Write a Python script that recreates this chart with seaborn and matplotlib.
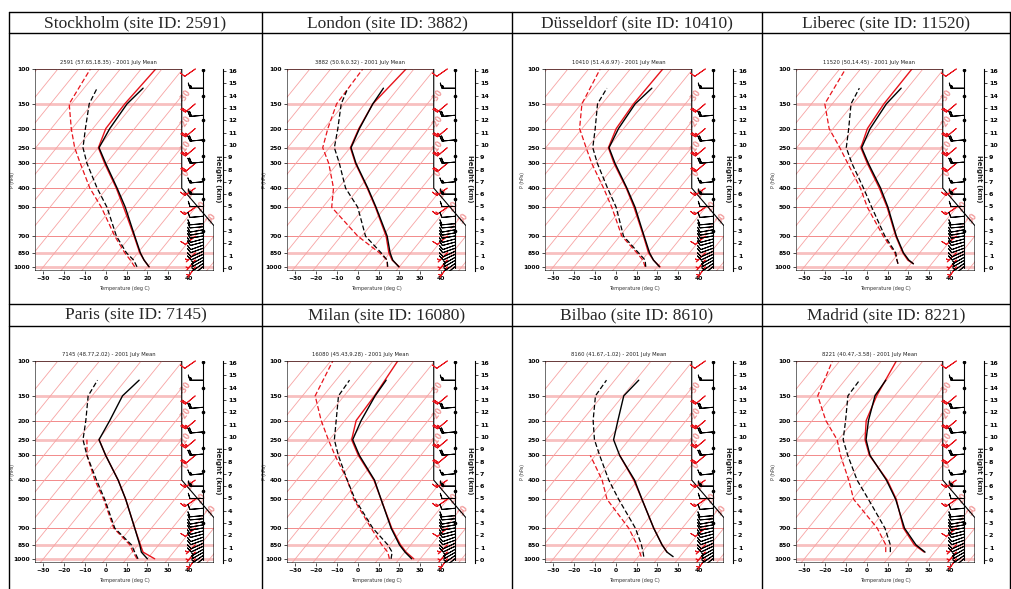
import numpy as np
import matplotlib
matplotlib.use("Agg")
import matplotlib.pyplot as plt
import seaborn as sns
from matplotlib.patches import Polygon
from matplotlib.lines import Line2D
from matplotlib.transforms import blended_transform_factory

sns.set_theme(style="white")
plt.rcParams['font.family'] = ['DejaVu Sans']

NaN = np.nan

# ---------------- data ----------------
HEADERS = ["Stockholm (site ID: 2591)", "London (site ID: 3882)",
           "Düsseldorf (site ID: 10410)", "Liberec (site ID: 11520)",
           "Paris (site ID: 7145)", "Milan (site ID: 16080)",
           "Bilbao (site ID: 8610)", "Madrid (site ID: 8221)"]
SUBTITLES = ["2591 (57.65,18.35) - 2001 July Mean", "3882 (50.9,0.32) - 2001 July Mean",
             "10410 (51.4,6.97) - 2001 July Mean", "11520 (50,14.45) - 2001 July Mean",
             "7145 (48.77,2.02) - 2001 July Mean", "16080 (45.43,9.28) - 2001 July Mean",
             "8160 (41.67,-1.02) - 2001 July Mean", "8221 (40.47,-3.58) - 2001 July Mean"]

ISOBARS = [100, 150, 200, 250, 300, 400, 500, 700, 850, 1000]
TEMP_TICKS = [-30, -20, -10, 0, 10, 20, 30, 40]
HEIGHT_TICKS = list(range(0, 17))

# Stockholm
STO_OBS_P = [1000, 925, 850, 700, 500, 400, 300, 250, 200, 150, 125]
STO_OBS_T = [20.8, 15.8, 11.2, 2.0, -13.8, -25.2, -40.3, -49.6, -51.9, -53.2, -51.6]
STO_OBS_TD = [15.0, 10.8, 4.5, -6.8, -22.6, -34.8, -49.3, -57.3, -63.6, -71.4, -73.7]
STO_MOD_P = [1000, 925, 850, 700, 500, 400, 300, 250, 200, 150, 100]
STO_MOD_T = [20.8, 15.8, 10.9, 1.7, -14.6, -25.6, -40.8, -49.9, -53.8, -54.3, -53.0]
STO_MOD_TD = [13.9, 9.2, 3.7, -7.6, -25.3, -38.3, -52.5, -61.3, -70.4, -81.0, -84.4]

# London
LON_OBS_P = [1000, 925, 850, 700, 500, 400, 300, 250, 200, 150, 125]
LON_OBS_T = [19.7, 14.2, 10.1, 2.2, -14.4, -25.8, -41.1, -49.6, -53.0, -56.2, -57.2]
LON_OBS_TD = [14.4, 11.5, 5.8, -8.2, -23.2, -36.5, -49.1, -57.6, -63.4, -71.4, -74.3]
LON_MOD_P = [1000, 925, 850, 700, 500, 400, 300, 250, 200, 150, 100]
LON_MOD_T = [20.0, 13.9, 9.5, 1.7, -14.7, -26.1, -41.4, -49.9, -53.3, -56.2, -53.8]
LON_MOD_TD = [14.2, 11.5, 5.0, -11.9, -35.7, -42.3, -54.2, -63.2, -68.2, -73.6, -74.6]

# Duesseldorf
DUS_OBS_P = [1000, 925, 850, 700, 500, 400, 300, 250, 200, 150, 125]
DUS_OBS_T = [21.0, 15.5, 10.8, 1.7, -13.9, -25.3, -40.6, -49.6, -52.5, -54.1, -52.2]
DUS_OBS_TD = [14.4, 11.5, 5.5, -8.2, -23.0, -34.6, -49.1, -57.4, -63.7, -72.2, -73.8]
DUS_MOD_P = [1000, 925, 850, 700, 500, 400, 300, 250, 200, 150, 100]
DUS_MOD_T = [21.3, 15.5, 10.3, 1.4, -14.4, -25.6, -41.1, -49.9, -53.6, -54.9, -54.4]
DUS_MOD_TD = [14.1, 10.4, 4.7, -9.0, -25.1, -36.5, -51.8, -60.6, -71.2, -79.7, -84.5]

# Liberec
LIB_OBS_P = [965, 925, 850, 700, 500, 400, 300, 250, 200, 150, 125]
LIB_OBS_T = [21.2, 17.6, 12.2, 2.3, -13.0, -24.0, -39.5, -48.8, -52.2, -54.0, -53.0]
LIB_OBS_TD = [13.8, 11.9, 8.5, -3.2, -20.8, -32.2, -47.4, -56.2, -62.5, -71.0, -73.1]
LIB_MOD_P = [965, 925, 850, 700, 500, 400, 300, 250, 200, 150, 100]
LIB_MOD_T = [21.2, 17.1, 11.9, 2.0, -13.4, -24.6, -40.0, -49.2, -53.5, -55.2, -55.3]
LIB_MOD_TD = [13.8, 11.9, 8.0, -4.0, -22.9, -33.7, -49.4, -59.3, -71.9, -83.6, -87.2]

# Paris
PAR_OBS_P = [1000, 925, 850, 700, 500, 400, 300, 250, 200, 150, 125]
PAR_OBS_T = [20.0, 14.5, 10.9, 2.0, -13.6, -24.7, -40.3, -49.6, -51.9, -55.4, -53.5]
PAR_OBS_TD = [15.5, 11.3, 6.9, -7.6, -23.7, -35.1, -49.3, -57.3, -63.4, -71.9, -73.5]
PAR_MOD_P = [1000, 925, 850, 700, 500, 400, 300, 250]
PAR_MOD_T = [23.5, 15.3, 11.2, 2.0, -13.6, -24.7, -40.3, -49.6]
PAR_MOD_TD = [15.0, 10.5, 6.1, -8.1, -24.2, -35.9, -49.3, -55.4]

# Milan
MIL_OBS_P = [1000, 925, 850, 700, 500, 400, 300, 250, 200, 150, 125]
MIL_OBS_T = [25.9, 20.1, 14.6, 4.1, -12.0, -22.6, -39.5, -48.8, -52.2, -55.1, -55.9]
MIL_OBS_TD = [16.0, 13.9, 9.0, -4.7, -24.5, -35.7, -49.6, -57.6, -64.2, -72.7, -73.5]
MIL_MOD_P = [1000, 925, 850, 700, 500, 400, 300, 250, 200, 150, 100]
MIL_MOD_T = [26.9, 20.6, 15.1, 4.4, -12.0, -22.9, -40.0, -49.3, -54.6, -55.4, -57.8]
MIL_MOD_TD = [15.2, 11.8, 6.1, -5.5, -25.1, -35.7, -51.2, -60.5, -71.4, -83.9, -89.0]

# Bilbao
BIL_OBS_P = [975, 925, 850, 700, 500, 400, 300, 250, 200, 150, 125]
BIL_OBS_T = [26.7, 22.0, 16.8, 6.3, -10.6, -21.6, -38.4, -47.4, -52.8, -59.6, -58.5]
BIL_OBS_TD = [12.6, 10.5, 6.9, -2.5, -21.8, -34.0, -48.0, -56.6, -64.7, -73.2, -74.0]
BIL_MOD_P = [975, 925, 850, 700, 500, 400, 300]
BIL_MOD_T = [NaN, 22.0, 16.8, 6.3, -10.6, -22.0, -38.4]
BIL_MOD_TD = [11.4, 8.9, 4.8, -5.7, -27.4, -37.2, -52.5]

# Madrid
MAD_OBS_P = [925, 850, 700, 500, 400, 300, 250, 200, 150, 125]
MAD_OBS_T = [25.4, 18.2, 6.2, -9.3, -21.2, -38.7, -46.7, -53.0, -59.5, -60.4]
MAD_OBS_TD = [8.7, 5.9, -3.2, -22.4, -35.3, -49.4, -57.7, -64.0, -72.5, -73.0]
MAD_MOD_P = [925, 850, 700, 500, 400, 300, 250, 200, 150, 100]
MAD_MOD_T = [25.0, 17.4, 5.7, -9.0, -20.8, -39.0, -47.2, -54.1, -58.7, -62.8]
MAD_MOD_TD = [6.5, 3.7, -6.9, -29.5, -39.3, -52.9, -60.6, -73.5, -87.0, -93.5]

# winds (model on pressure levels, observations on height levels)
MOD_WIND_P = [100, 150, 200, 250, 300, 400, 500, 700, 850, 925, 1000]
MOD_WIND_SPD = [10, 20, 25, 25, 20, 15, 15, 10, 5, 5, 5]
MOD_WIND_DIR = [235, 230, 230, 230, 230, 235, 235, 230, 225, 220, 215]
OBS_WIND_Z = [14.6, 12.4, 10.4, 8.6, 7.0, 6.0, 5.0, 4.2, 3.6, 3.35, 3.1, 2.85,
              2.6, 2.35, 2.1, 1.85, 1.6, 1.35, 1.1, 0.85, 0.6, 0.35, 0.1]
OBS_WIND_SPD = [15, 20, 20, 20, 15, 15, 10, 10, 10, 10, 10, 10,
                10, 10, 10, 10, 10, 10, 10, 5, 5, 5, 5]
OBS_WIND_DIR = [270, 265, 265, 265, 265, 270, 270, 265, 265, 265, 260, 260,
                260, 255, 255, 250, 250, 245, 245, 240, 240, 235, 230]

SITES = [
    (STO_OBS_P, STO_OBS_T, STO_OBS_TD, STO_MOD_P, STO_MOD_T, STO_MOD_TD),
    (LON_OBS_P, LON_OBS_T, LON_OBS_TD, LON_MOD_P, LON_MOD_T, LON_MOD_TD),
    (DUS_OBS_P, DUS_OBS_T, DUS_OBS_TD, DUS_MOD_P, DUS_MOD_T, DUS_MOD_TD),
    (LIB_OBS_P, LIB_OBS_T, LIB_OBS_TD, LIB_MOD_P, LIB_MOD_T, LIB_MOD_TD),
    (PAR_OBS_P, PAR_OBS_T, PAR_OBS_TD, PAR_MOD_P, PAR_MOD_T, PAR_MOD_TD),
    (MIL_OBS_P, MIL_OBS_T, MIL_OBS_TD, MIL_MOD_P, MIL_MOD_T, MIL_MOD_TD),
    (BIL_OBS_P, BIL_OBS_T, BIL_OBS_TD, BIL_MOD_P, BIL_MOD_T, BIL_MOD_TD),
    (MAD_OBS_P, MAD_OBS_T, MAD_OBS_TD, MAD_MOD_P, MAD_MOD_T, MAD_MOD_TD),
]

# ---------------- layout ----------------
W, H = 1011, 589
fig = plt.figure(figsize=(W / 100, H / 100), dpi=100)
fig.patch.set_facecolor('white')


def fax(x, y, w, h):
    return fig.add_axes([x / W, 1 - (y + h) / H, w / W, h / H])


K = 77.0  # skew (deg C per decade of pressure)
XMIN, XBOX, XMAX = -34.0, 36.5, 52.0
PBOT, PTOP = 1050.0, 100.0
BOUND_X = [XMIN, XMIN, XBOX, XBOX, XMAX, XMAX]
BOUND_P = [PBOT, PTOP, PTOP, 400, 620, PBOT]


def skew(t, p):
    return np.asarray(t, float) + K * np.log10(1000.0 / np.asarray(p, float))


def bound_x(p):
    lp = np.log10(p)
    return np.interp(lp, [np.log10(400), np.log10(620)], [XBOX, XMAX])


def wind_uv(spd, d):
    r = np.deg2rad(np.asarray(d, float))
    s = np.asarray(spd, float)
    return -s * np.sin(r), -s * np.cos(r)


RED = '#e8141c'
ISO_THIN = '#f28a8a'
ISO_THICK = '#f8c0c0'
ISOTH = '#f7a3a3'
LABEL_PINK = '#f19a9a'


def draw_cell(left, top, sub, obs_p, obs_t, obs_td, mod_p, mod_t, mod_td):
    w, h = 179, 202
    ax = fax(left, top, w, h)
    ax.set_yscale('log')
    ax.patch.set_alpha(0)
    for s in ax.spines.values():
        s.set_visible(False)

    poly = Polygon(np.column_stack([BOUND_X, BOUND_P]), closed=True, fill=False,
                   edgecolor='black', lw=0.8, transform=ax.transData, zorder=5)
    ax.add_patch(poly)

    for p in ISOBARS:
        thick = p in (150, 250, 850, 1000)
        ln, = ax.plot([XMIN, XMAX], [p, p], color=ISO_THICK if thick else ISO_THIN,
                      lw=2.0 if thick else 0.7, zorder=1, solid_capstyle='butt')
        ln.set_clip_path(poly)
    pp = np.geomspace(PBOT, PTOP, 60)
    for t in range(-130, 60, 10):
        ln, = ax.plot(skew(t, pp), pp, color=ISOTH, lw=0.6, zorder=1)
        ln.set_clip_path(poly)

    # isotherm labels where they meet the right boundary
    pf = np.geomspace(PBOT, PTOP, 2000)
    for t in [-30, -20, -10, 0, 10, 20, 30]:
        d = skew(t, pf) - bound_x(pf)
        idx = np.where(np.diff(np.sign(d)) != 0)[0]
        if len(idx):
            pc = pf[idx[0]]
            ax.text(bound_x(pc) + 2.0, pc, f"{t}", color=LABEL_PINK, fontsize=5.5,
                    fontweight='bold', rotation=55, ha='center', va='center', zorder=3,
                    clip_on=False)

    kw = dict(ax=ax, sort=False, estimator=None, legend=False)
    sns.lineplot(x=skew(mod_t, mod_p), y=mod_p, color=RED, lw=1.0, zorder=4, **kw)
    sns.lineplot(x=skew(mod_td, mod_p), y=mod_p, color=RED, lw=0.9,
                 linestyle=(0, (4, 2)), zorder=4, **kw)
    sns.lineplot(x=skew(obs_t, obs_p), y=obs_p, color='black', lw=1.0, zorder=4, **kw)
    sns.lineplot(x=skew(obs_td, obs_p), y=obs_p, color='black', lw=0.9,
                 linestyle=(0, (4, 2)), zorder=4, **kw)

    # model winds (red)
    u, v = wind_uv(MOD_WIND_SPD, MOD_WIND_DIR)
    ax.barbs(np.full(len(MOD_WIND_P), 43.0), MOD_WIND_P, u, v, length=4.3,
             linewidth=0.7, color=RED, zorder=6, clip_on=False)

    ax.set_xlim(XMIN, XMAX)
    ax.set_ylim(PBOT, PTOP)
    ax.set_yticks(ISOBARS)
    ax.set_yticklabels([str(p) for p in ISOBARS])
    ax.yaxis.set_minor_locator(matplotlib.ticker.NullLocator())
    ax.set_xticks(TEMP_TICKS)
    ax.set_xticklabels([f"{t}".replace('-', '\u2212') for t in TEMP_TICKS])
    ax.tick_params(axis='both', labelsize=4.3, length=2, width=0.5, pad=1.5,
                   colors='black', left=True, bottom=True)
    for lb in ax.get_xticklabels() + ax.get_yticklabels():
        lb.set_fontweight('bold')
    ax.set_xlabel('Temperature (deg C)', fontsize=3.5, color='#333333')
    ax.set_ylabel('P (hPa)', fontsize=3.3, color='#333333')
    ax.xaxis.set_label_coords(0.5, -0.075)
    ax.yaxis.set_label_coords(-0.112, 0.45)
    tr = blended_transform_factory(ax.transData, ax.transAxes)
    ax.text((XMIN + XBOX) / 2, 1.02, sub, transform=tr, ha='center', va='bottom',
            fontsize=3.8, color='#222222')

    # observed winds (black) on height coordinates
    axw = fax(left, top, w, h)
    axw.set_xlim(XMIN, XMAX)
    axw.set_ylim(-0.24, 16.16)
    axw.axis('off')
    axw.plot([46.6, 46.6], [0.0, 16.16], color='black', lw=0.8)
    axw.scatter([46.6] * 8, [16.1, 14.0, 12.0, 10.4, 9.1, 7.2, 5.6, 3.0], s=2.5,
                color='black', zorder=5)
    uo, vo = wind_uv(OBS_WIND_SPD, OBS_WIND_DIR)
    axw.barbs(np.full(len(OBS_WIND_Z), 46.6), OBS_WIND_Z, uo, vo, length=4.3,
              linewidth=0.7, color='black', zorder=6)

    # height axis
    axh = fax(left + 188, top, 0.01, h)
    axh.set_ylim(-0.24, 16.16)
    axh.patch.set_alpha(0)
    axh.set_xticks([])
    for k in ['top', 'bottom', 'left']:
        axh.spines[k].set_visible(False)
    axh.spines['right'].set_color('black')
    axh.spines['right'].set_linewidth(0.8)
    axh.yaxis.tick_right()
    axh.set_yticks(HEIGHT_TICKS)
    axh.set_yticklabels([str(k) for k in HEIGHT_TICKS])
    axh.tick_params(axis='y', labelsize=4.6, length=2, width=0.5, pad=1.5,
                    colors='black', right=True)
    for lb in axh.get_yticklabels():
        lb.set_fontweight('bold')
    fig.text((left + 183) / W, 1 - (top + 110) / H, 'Height (km)', rotation=270,
             fontsize=5, fontweight='bold', ha='center', va='center')


LEFTS = [35, 287, 545, 796]
TOPS = [69, 361]
for i, site in enumerate(SITES):
    r, c = divmod(i, 4)
    draw_cell(LEFTS[c], TOPS[r], SUBTITLES[i], *site)

# ---------------- table grid ----------------
COLS = [9, 262, 512, 762, 1010]
ROWS = [12, 33, 304, 326]
for x in COLS:
    fig.add_artist(Line2D([x / W, x / W], [1 - ROWS[0] / H, 0], color='black', lw=1.0,
                          transform=fig.transFigure))
for y in ROWS:
    fig.add_artist(Line2D([COLS[0] / W, COLS[-1] / W], [1 - y / H, 1 - y / H],
                          color='black', lw=1.0, transform=fig.transFigure))
for i, hd in enumerate(HEADERS):
    r, c = divmod(i, 4)
    xc = (COLS[c] + COLS[c + 1]) / 2
    yc = (ROWS[2 * r] + ROWS[2 * r + 1]) / 2 + 0.5
    fig.text(xc / W, 1 - yc / H, hd, ha='center', va='center', fontsize=12.5,
             family=['Liberation Serif', 'DejaVu Serif'])

fig.savefig('out.png', dpi=100, facecolor='white')
